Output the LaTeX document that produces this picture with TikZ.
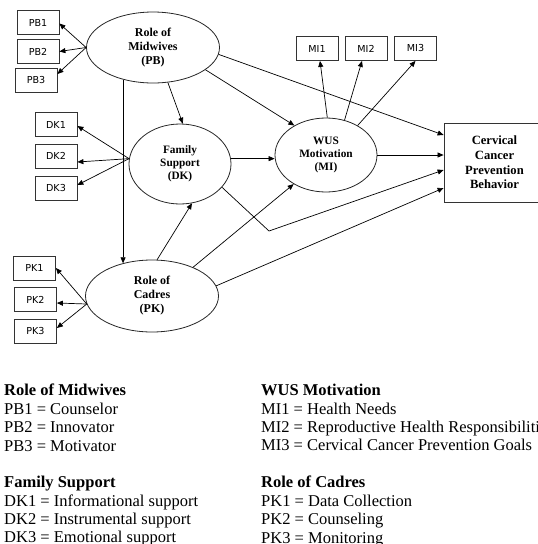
\documentclass[tikz,border=0pt]{standalone}
\usepackage{fontspec}
\setmainfont{Liberation Serif}
\newfontfamily\boxfont{DejaVu Sans}
\usetikzlibrary{arrows.meta, shapes.geometric, calc}

\begin{document}
\begin{tikzpicture}[
    x=1pt, y=-1pt,
    latent/.style={ellipse, draw=black!85, line width=0.8pt, inner sep=0pt, align=center, font=\bfseries\fontsize{12}{14}\selectfont},
    latent_small/.style={latent, font=\bfseries\fontsize{11.3}{13}\selectfont},
    indicator/.style={rectangle, draw=black!80, line width=0.8pt, minimum width=42pt, minimum height=24pt, inner sep=0pt, font=\boxfont\fontsize{9.6}{11}\selectfont},
    outcome/.style={rectangle, draw=black!80, line width=0.8pt, minimum width=101pt, minimum height=79pt, inner sep=0pt, align=center, font=\bfseries\fontsize{12.6}{14.6}\selectfont},
    arrow/.style={-{Triangle[length=6pt, width=5pt]}, line width=0.7pt},
    legend/.style={anchor=north west, inner sep=0pt, align=left, font=\fontsize{16.5}{18.4}\selectfont}
]
    \useasboundingbox (0,0) rectangle (538,544);

    % Latent variables
    \node[latent, minimum width=133pt, minimum height=71pt] (pb) at (153,47.5) {Role of\\Midwives\\(PB)};
    \node[latent_small, minimum width=102pt, minimum height=80pt] (dk) at (180,164) {Family\\Support\\(DK)};
    \node[latent_small, minimum width=102pt, minimum height=74pt] (mi) at (326,155) {WUS\\Motivation\\(MI)};
    \node[latent, minimum width=133pt, minimum height=72pt] (pk) at (152,296) {Role of\\Cadres\\(PK)};
    \node[outcome] (ccpb) at (494.5,162.5) {Cervical\\Cancer\\Prevention\\Behavior};

    % Indicators
    \node[indicator] (pb1) at (38,22.5) {PB1};
    \node[indicator] (pb2) at (38,51.5) {PB2};
    \node[indicator] (pb3) at (36,80) {PB3};
    \node[indicator] (dk1) at (56,124.5) {DK1};
    \node[indicator] (dk2) at (56,156) {DK2};
    \node[indicator] (dk3) at (56,188) {DK3};
    \node[indicator] (pk1) at (34.5,268) {PK1};
    \node[indicator] (pk2) at (35.5,299.5) {PK2};
    \node[indicator] (pk3) at (35.5,331) {PK3};
    \node[indicator] (mi1) at (317,48.5) {MI1};
    \node[indicator] (mi2) at (366,48.5) {MI2};
    \node[indicator] (mi3) at (415.5,48.5) {MI3};

    % Outer model
    \draw[arrow] (pb.west) -- ([yshift=-1pt]pb1.east);
    \draw[arrow] (pb.west) -- (pb2.east);
    \draw[arrow] (pb.west) -- ([yshift=6pt]pb3.east);
    \draw[arrow] (dk.174) -- ([yshift=-1.5pt]dk1.east);
    \draw[arrow] (dk.174) -- ([yshift=-6pt]dk2.east);
    \draw[arrow] (dk.174) -- ([yshift=3pt]dk3.east);
    \draw[arrow] (pk.187) -- (pk1.east);
    \draw[arrow] (pk.187) -- ([yshift=-3.5pt]pk2.east);
    \draw[arrow] (pk.187) -- ([yshift=3pt]pk3.east);
    \draw[arrow] (mi.88) -- ([xshift=3pt]mi1.south);
    \draw[arrow] (mi.62) -- ([xshift=-4pt]mi2.south);
    \draw[arrow] (mi.43) -- (mi3.south);

    % Inner model
    \draw[arrow] (pb.293) -- (dk.86);
    \draw[arrow] (pb.-23) -- (mi.137);
    \draw[arrow] (pb.-6) -- ([yshift=27.5pt]ccpb.west);
    \draw[arrow] (pb.227) -- (pb.227 |- pk.132);
    \draw[arrow] (dk.6) -- (dk.6 -| mi.west);
    \coordinate (bend) at (269,231);
    \draw[arrow] (dk.-29) -- (bend) -- ([yshift=-7.5pt]ccpb.west);
    \draw[arrow] (mi.east) -- (mi.east -| ccpb.west);
    \draw[arrow] (pk.82) -- (dk.-73);
    \draw[arrow] (pk.35) -- (mi.222);
    \draw[arrow] (pk.9) -- ([yshift=-25.5pt]ccpb.west);

    % Legend
    \node[legend] (lpb) at (4,384) {\textbf{Role of Midwives}\\PB1 = Counselor\\PB2 = Innovator\\PB3 = Motivator};
    \node[legend] (ldk) at (4,476) {\textbf{Family Support}\\DK1 = Informational support\\DK2 = Instrumental support\\DK3 = Emotional support};
    \node[legend] (lmi) at (261,384) {\textbf{WUS Motivation}\\MI1 = Health Needs\\MI2 = Reproductive Health Responsibilities\\MI3 = Cervical Cancer Prevention Goals};
    \node[legend] (lpk) at (261,476) {\textbf{Role of Cadres}\\PK1 = Data Collection\\PK2 = Counseling\\PK3 = Monitoring};

\end{tikzpicture}
\end{document}
